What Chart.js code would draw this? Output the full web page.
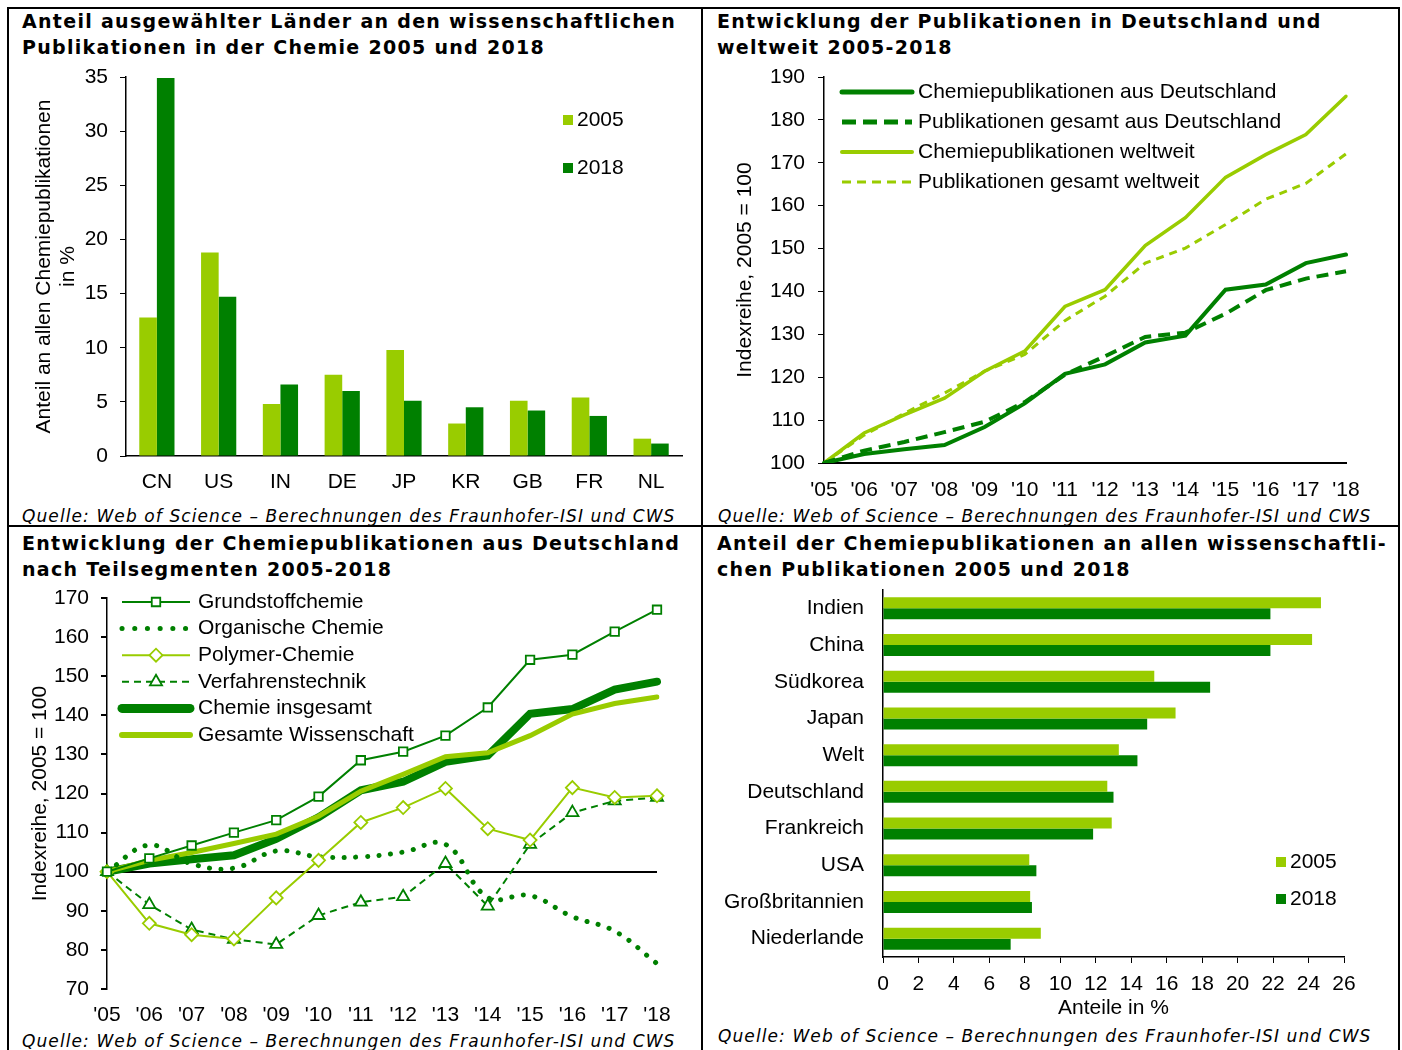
<!DOCTYPE html>
<html>
<head>
<meta charset="utf-8">
<script src="https://cdn.jsdelivr.net/npm/chart.js@4"></script>
<style>
  body { margin: 0; background: #fff; }
  #page { position: relative; width: 1402px; height: 1050px; overflow: hidden; }
  .line { position: absolute; background: #000; }
  .title { position: absolute; font: bold 19px "DejaVu Sans", Verdana, sans-serif; letter-spacing: 1.3px; line-height: 26px; color: #000; white-space: nowrap; }
  .source { position: absolute; font: italic 17px "DejaVu Sans", Verdana, sans-serif; letter-spacing: 1.1px; line-height: 20px; color: #000; white-space: nowrap; }
  canvas { position: absolute; }
</style>
</head>
<body>
<div id="page">
  <div class="line" style="left:7px;top:7px;width:1393px;height:2px"></div>
  <div class="line" style="left:7px;top:7px;width:2px;height:1043px"></div>
  <div class="line" style="left:1398px;top:7px;width:2px;height:1043px"></div>
  <div class="line" style="left:701px;top:7px;width:2px;height:1043px"></div>
  <div class="line" style="left:7px;top:525px;width:1393px;height:2px"></div>

  <div class="title" style="left:22px;top:8px">Anteil ausgewählter Länder an den wissenschaftlichen<br>Publikationen in der Chemie 2005 und 2018</div>
  <div class="title" style="left:717px;top:8px">Entwicklung der Publikationen in Deutschland und<br>weltweit 2005-2018</div>
  <div class="title" style="left:22px;top:530px">Entwicklung der Chemiepublikationen aus Deutschland<br>nach Teilsegmenten 2005-2018</div>
  <div class="title" style="left:717px;top:530px">Anteil der Chemiepublikationen an allen wissenschaftli-<br>chen Publikationen 2005 und 2018</div>

  <div class="source" style="left:22px;top:506px">Quelle: Web of Science – Berechnungen des Fraunhofer-ISI und CWS</div>
  <div class="source" style="left:718px;top:506px">Quelle: Web of Science – Berechnungen des Fraunhofer-ISI und CWS</div>
  <div class="source" style="left:22px;top:1031px">Quelle: Web of Science – Berechnungen des Fraunhofer-ISI und CWS</div>
  <div class="source" style="left:718px;top:1026px">Quelle: Web of Science – Berechnungen des Fraunhofer-ISI und CWS</div>

  <canvas id="c1" width="690" height="440" style="left:10px;top:60px"></canvas>
  <canvas id="c2" width="693" height="450" style="left:705px;top:60px"></canvas>
  <canvas id="c3" width="690" height="450" style="left:10px;top:585px"></canvas>
  <canvas id="c4" width="693" height="440" style="left:705px;top:585px"></canvas>
</div>
<script>
// colours
const LIGHT = '#99cc00';
const DARK = '#008000';

// panel 1: share of selected countries in chemistry publications
const countries = ['CN', 'US', 'IN', 'DE', 'JP', 'KR', 'GB', 'FR', 'NL'];
const share2005 = [12.8, 18.8, 4.8, 7.5, 9.8, 3.0, 5.1, 5.4, 1.6];
const share2018 = [34.9, 14.7, 6.6, 6.0, 5.1, 4.5, 4.2, 3.7, 1.15];

// panel 2 + 3: index series, 2005 = 100
const years = ["'05", "'06", "'07", "'08", "'09", "'10", "'11", "'12", "'13", "'14", "'15", "'16", "'17", "'18"];
const chemDE = [100, 102.1, 103.2, 104.2, 108.4, 113.9, 120.8, 123.0, 128.1, 129.7, 140.4, 141.6, 146.6, 148.6];
const allDE = [100, 102.9, 104.9, 107.2, 109.6, 114.2, 120.6, 124.9, 129.4, 130.4, 134.8, 140.3, 143.0, 144.7];
const chemWorld = [100, 107.0, 111.2, 115.1, 121.4, 126.1, 136.5, 140.4, 150.7, 157.2, 166.6, 171.9, 176.6, 185.5];
const allWorld = [100, 106.5, 111.6, 116.3, 121.4, 125.3, 133.2, 138.9, 146.6, 150.1, 155.6, 161.5, 165.2, 172.1];

// panel 3: segments
const grundstoff = [100, 103.4, 106.7, 110.0, 113.2, 119.2, 128.5, 130.7, 134.8, 142.0, 154.2, 155.5, 161.4, 167.0];
const organisch = [100, 106.8, 102.0, 100.9, 105.3, 103.8, 103.8, 105.0, 107.0, 93.4, 93.9, 88.5, 84.8, 76.5];
const polymer = [100, 86.8, 83.9, 82.8, 93.3, 102.9, 112.6, 116.4, 121.3, 111.0, 108.1, 121.5, 119.0, 119.4];
const verfahren = [100, 91.6, 85.2, 82.7, 81.4, 88.8, 92.2, 93.6, 102.1, 91.2, 107.0, 115.1, 118.1, 119.0];

// panel 4: share of chemistry in all publications
const countriesLong = ['Indien', 'China', 'Südkorea', 'Japan', 'Welt', 'Deutschland', 'Frankreich', 'USA', 'Großbritannien', 'Niederlande'];
const chemShare2005 = [24.7, 24.2, 15.3, 16.5, 13.3, 12.65, 12.9, 8.25, 8.3, 8.9];
const chemShare2018 = [21.85, 21.85, 18.45, 14.9, 14.35, 13.0, 11.85, 8.65, 8.4, 7.2];

Chart.defaults.font.family = '"Liberation Sans", Arial, sans-serif';
Chart.defaults.font.size = 21;
Chart.defaults.color = '#000';
Chart.defaults.animation = false;
Chart.defaults.responsive = false;
Chart.defaults.devicePixelRatio = 1;
Chart.defaults.plugins.legend.display = false;
Chart.defaults.plugins.tooltip.enabled = false;

// legend drawn at a fixed spot inside the canvas
const freeLegend = {
    id: 'freeLegend',
    afterDraw(chart, args, opts) {
        if (!opts.type) return;
        const ctx = chart.ctx;
        ctx.save();
        ctx.font = '21px "Liberation Sans", Arial, sans-serif';
        ctx.textBaseline = 'middle';
        chart.data.datasets.forEach((ds, i) => {
            const y = opts.y + i * opts.gap;
            if (opts.type === 'box') {
                ctx.fillStyle = ds.backgroundColor;
                ctx.fillRect(opts.x, y - 5, 10, 10);
            } else {
                ctx.strokeStyle = ds.borderColor;
                ctx.lineWidth = ds.legendWidth || ds.borderWidth;
                ctx.lineCap = ds.borderCapStyle || 'butt';
                ctx.setLineDash(ds.legendDash || ds.borderDash || []);
                ctx.beginPath();
                ctx.moveTo(opts.x, y);
                ctx.lineTo(opts.x + opts.len, y);
                ctx.stroke();
                ctx.setLineDash([]);
                if (ds.pointStyle && ds.pointRadius) {
                    ctx.fillStyle = '#fff';
                    ctx.strokeStyle = ds.pointBorderColor;
                    ctx.lineWidth = ds.pointBorderWidth;
                    Chart.helpers.drawPoint(ctx, {
                        pointStyle: ds.pointStyle,
                        radius: ds.pointRadius,
                        borderWidth: ds.pointBorderWidth,
                        rotation: 0
                    }, opts.x + opts.len / 2, y);
                }
            }
            ctx.fillStyle = '#000';
            ctx.fillText(ds.label, opts.x + opts.textOffset, y);
        });
        ctx.restore();
    }
};
Chart.register(freeLegend);

// fixed axis sizes, and no extra label padding pushing the chart area around
const fixWidth = (w) => (scale) => { scale.width = w; scale.paddingTop = 0; scale.paddingBottom = 0; };
const fixHeight = (h) => (scale) => { scale.height = h; scale.paddingLeft = 0; scale.paddingRight = 0; };

const yTicksOut = {
    display: true,
    drawOnChartArea: false,
    drawTicks: true,
    tickLength: 6,
    color: '#000',
    tickColor: '#000'
};
const noGrid = { display: false, drawTicks: false };

// panel 1
new Chart(document.getElementById('c1'), {
    type: 'bar',
    data: {
        labels: countries,
        datasets: [
            { label: '2005', data: share2005, backgroundColor: LIGHT, categoryPercentage: 0.57, barPercentage: 1 },
            { label: '2018', data: share2018, backgroundColor: DARK, categoryPercentage: 0.57, barPercentage: 1 }
        ]
    },
    options: {
        layout: { padding: { top: 17, right: 18, left: 0, bottom: 0 } },
        plugins: { freeLegend: { type: 'box', x: 553, y: 60, gap: 48, textOffset: 14 } },
        scales: {
            x: {
                grid: noGrid,
                border: { color: '#000', width: 1.5 },
                ticks: { padding: 14 },
                afterFit: fixHeight(44)
            },
            y: {
                min: 0, max: 35,
                ticks: { stepSize: 5, padding: 12 },
                grid: yTicksOut,
                border: { color: '#000', width: 1.5 },
                title: {
                    display: true,
                    text: ['Anteil an allen Chemiepublikationen', 'in %'],
                    font: { size: 21, lineHeight: 1.15 },
                    padding: { top: 22 }
                },
                afterFit: fixWidth(116)
            }
        }
    }
});

// panel 2
new Chart(document.getElementById('c2'), {
    type: 'line',
    data: {
        labels: years,
        datasets: [
            { label: 'Chemiepublikationen aus Deutschland', data: chemDE, borderColor: DARK, borderWidth: 4, borderCapStyle: 'round', legendWidth: 5, pointRadius: 0 },
            { label: 'Publikationen gesamt aus Deutschland', data: allDE, borderColor: DARK, borderWidth: 4, borderDash: [12, 7], legendWidth: 5, legendDash: [14, 7], pointRadius: 0 },
            { label: 'Chemiepublikationen weltweit', data: chemWorld, borderColor: LIGHT, borderWidth: 3.5, borderCapStyle: 'round', legendWidth: 4, pointRadius: 0 },
            { label: 'Publikationen gesamt weltweit', data: allWorld, borderColor: LIGHT, borderWidth: 3, borderDash: [8, 6], legendDash: [9, 6], pointRadius: 0 }
        ]
    },
    options: {
        layout: { padding: { top: 17, right: 52, left: 0, bottom: 0 } },
        plugins: { freeLegend: { type: 'line', x: 137, y: 32, gap: 30, len: 70, textOffset: 76 } },
        scales: {
            x: {
                grid: noGrid,
                border: { color: '#000', width: 2 },
                ticks: { padding: 15, maxRotation: 0, autoSkip: false },
                afterFit: fixHeight(47)
            },
            y: {
                min: 100, max: 190,
                ticks: { stepSize: 10, padding: 13 },
                grid: yTicksOut,
                border: { color: '#000', width: 1.5 },
                title: {
                    display: true,
                    text: 'Indexreihe, 2005 = 100',
                    font: { size: 21, lineHeight: 1.15 },
                    padding: { top: 28 }
                },
                afterFit: fixWidth(119)
            }
        }
    }
});

// panel 3
new Chart(document.getElementById('c3'), {
    type: 'line',
    data: {
        labels: years,
        datasets: [
            { label: 'Grundstoffchemie', data: grundstoff, borderColor: DARK, borderWidth: 2, order: 1,
              pointStyle: 'rect', pointRadius: 6, pointBorderWidth: 1.8, pointBackgroundColor: '#fff', pointBorderColor: DARK },
            { label: 'Organische Chemie', data: organisch, borderColor: DARK, borderWidth: 5, order: 4,
              borderDash: [0.1, 11.5], borderCapStyle: 'round', legendDash: [0.1, 12.6], tension: 0.4, pointRadius: 0 },
            { label: 'Polymer-Chemie', data: polymer, borderColor: LIGHT, borderWidth: 2, order: 2,
              pointStyle: 'rectRot', pointRadius: 6.5, pointBorderWidth: 1.8, pointBackgroundColor: '#fff', pointBorderColor: LIGHT },
            { label: 'Verfahrenstechnik', data: verfahren, borderColor: DARK, borderWidth: 2, borderDash: [7, 5], order: 3,
              pointStyle: 'triangle', pointRadius: 7, pointBorderWidth: 1.8, pointBackgroundColor: '#fff', pointBorderColor: DARK },
            { label: 'Chemie insgesamt', data: chemDE, borderColor: DARK, borderWidth: 8, borderCapStyle: 'round', order: 6, legendWidth: 9, pointRadius: 0 },
            { label: 'Gesamte Wissenschaft', data: allDE, borderColor: LIGHT, borderWidth: 5, borderCapStyle: 'round', order: 5, legendWidth: 6, pointRadius: 0 }
        ]
    },
    options: {
        layout: { padding: { top: 13, right: 43, left: 0, bottom: 0 } },
        plugins: { freeLegend: { type: 'line', x: 112, y: 17, gap: 26.6, len: 68, textOffset: 76 } },
        scales: {
            x: {
                grid: noGrid,
                border: { display: false },
                ticks: { padding: 14, maxRotation: 0, autoSkip: false },
                afterFit: fixHeight(46)
            },
            y: {
                min: 70, max: 170,
                ticks: { stepSize: 10, padding: 12 },
                grid: {
                    display: true,
                    drawOnChartArea: true,
                    drawTicks: true,
                    tickLength: 6,
                    tickColor: '#000',
                    lineWidth: 2,
                    color: (ctx) => (ctx.tick && ctx.tick.value === 100 ? '#000' : 'transparent')
                },
                border: { color: '#000', width: 1.5 },
                title: {
                    display: true,
                    text: 'Indexreihe, 2005 = 100',
                    font: { size: 21, lineHeight: 1.15 },
                    padding: { top: 18 }
                },
                afterFit: fixWidth(97)
            }
        }
    }
});

// panel 4
new Chart(document.getElementById('c4'), {
    type: 'bar',
    data: {
        labels: countriesLong,
        datasets: [
            { label: '2005', data: chemShare2005, backgroundColor: LIGHT, categoryPercentage: 0.6, barPercentage: 1 },
            { label: '2018', data: chemShare2018, backgroundColor: DARK, categoryPercentage: 0.6, barPercentage: 1 }
        ]
    },
    options: {
        indexAxis: 'y',
        layout: { padding: { top: 5, right: 54, left: 0, bottom: 0 } },
        plugins: { freeLegend: { type: 'box', x: 571, y: 277, gap: 37, textOffset: 14 } },
        scales: {
            x: {
                min: 0, max: 26,
                ticks: { stepSize: 2, padding: 9, maxRotation: 0, autoSkip: false },
                grid: { display: true, drawOnChartArea: false, drawTicks: true, tickLength: 6, color: '#000', tickColor: '#000' },
                border: { color: '#000', width: 1.5 },
                title: {
                    display: true,
                    text: 'Anteile in %',
                    font: { size: 21, lineHeight: 1.15 },
                    padding: { top: 0, bottom: 5 }
                },
                afterFit: fixHeight(68)
            },
            y: {
                grid: noGrid,
                border: { color: '#000', width: 1.5 },
                ticks: { padding: 19, autoSkip: false },
                afterFit: fixWidth(178)
            }
        }
    }
});
</script>
</body>
</html>
